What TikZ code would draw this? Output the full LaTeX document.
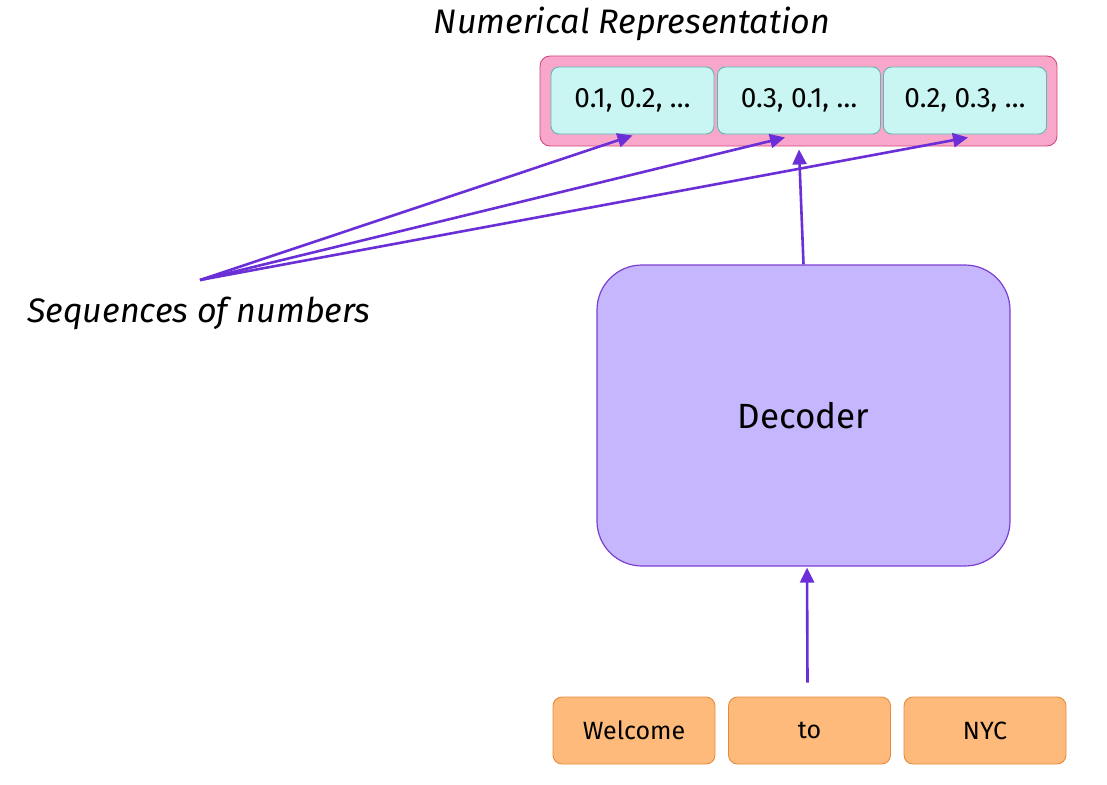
\documentclass[tikz,border=0pt]{standalone}
\usepackage{fontspec}
\setsansfont{Fira Sans}
\usetikzlibrary{arrows.meta,calc}
\definecolor{arrowc}{HTML}{6A2FD6}
\definecolor{pinkfill}{HTML}{F9A6CB}
\definecolor{pinkdraw}{HTML}{D2487E}
\definecolor{cyanfill}{HTML}{C9F5F3}
\definecolor{cyandraw}{HTML}{5DB8B4}
\definecolor{decfill}{HTML}{C6B6FD}
\definecolor{decdraw}{HTML}{7B3FD2}
\definecolor{orfill}{HTML}{FDBA7A}
\definecolor{ordraw}{HTML}{E68A3C}
\tikzset{
  numbox/.style={draw=cyandraw,fill=cyanfill,rounded corners=8pt,minimum width=163pt,minimum height=67pt,inner sep=0pt,line width=0.9pt,font=\sffamily\fontsize{28}{32}\selectfont},
  tokbox/.style={draw=ordraw,fill=orfill,rounded corners=9pt,minimum width=162pt,minimum height=67pt,inner sep=0pt,line width=0.9pt,font=\sffamily\fontsize{25}{28}\selectfont},
  arr/.style={draw=arrowc,line width=2.6pt,-{Triangle[length=15pt,width=14pt]}},
  label/.style={font=\sffamily\itshape\fontsize{34}{38}\selectfont,inner sep=0pt}
}
\begin{document}
\begin{tikzpicture}[x=1pt,y=-1pt]
\useasboundingbox (0,0) rectangle (1107,784);
\node[draw=pinkdraw,fill=pinkfill,rounded corners=10pt,minimum width=517pt,minimum height=90pt,line width=0.9pt] (outer) at (798.5,101) {};
\node[numbox] (c1) at (632.5,100.5) {0.1, 0.2, …};
\node[numbox] (c2) at (799,100.5) {0.3, 0.1, …};
\node[numbox] (c3) at (965,100.5) {0.2, 0.3, …};
\node[label] (title) at (632,24) {Numerical Representation};
\node[draw=decdraw,fill=decfill,rounded corners=45pt,minimum width=413pt,minimum height=301pt,line width=1.2pt,font=\sffamily\fontsize{35}{40}\selectfont] (dec) at (803.5,415.5) {Decoder};
\node[tokbox] (w1) at (634,730.5) {Welcome};
\node[tokbox] (w2) at (809.5,730.5) {to};
\node[tokbox] (w3) at (985,730.5) {NYC};
\node[label] (seq) at (199,313) {Sequences of numbers};
\coordinate (src) at (200,280);
\draw[arr] (src) -- ($(c1.south)+(0,1)$);
\draw[arr] (src) -- ($(c2.south)+(-14,3)$);
\draw[arr] (src) -- ($(c3.south)+(3,3)$);
\draw[arr] (dec.north) -- ($(outer.south)+(0.5,3)$);
\draw[arr] ($(w2.north)+(-2,-14)$) -- ($(dec.south)+(3.5,1)$);
\end{tikzpicture}
\end{document}
